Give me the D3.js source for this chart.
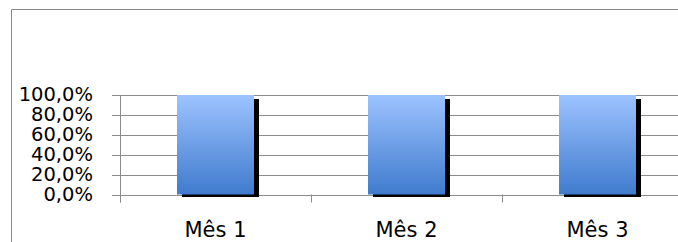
<!DOCTYPE html>
<html>
<head>
<meta charset="utf-8">
<script src="https://cdn.jsdelivr.net/npm/d3@7"></script>
<style>
  body { margin: 0; background: white; }
  svg { display: block; }
  text { font-family: "DejaVu Sans", sans-serif; fill: black; }
</style>
</head>
<body>
<div id="vis"></div>
<script>
// chart data
var categories = ['Mês 1', 'Mês 2', 'Mês 3'];
var values = [1.0, 1.0, 1.0];
var yTicks = [0, 0.2, 0.4, 0.6, 0.8, 1.0];

var svgWidth = 678;
var svgHeight = 242;

var svg = d3.select('#vis').append('svg')
  .attr('width', svgWidth)
  .attr('height', svgHeight);

// outer chart frame (runs past the right/bottom edge of the picture)
svg.append('path')
  .attr('d', 'M11.5,' + svgHeight + 'V9.5H' + svgWidth)
  .attr('fill', 'none')
  .attr('stroke', '#8a8a8a')
  .attr('stroke-width', 1);

// plot area
var plot = {left: 120, right: 693, top: 95, bottom: 194.5};

var xScale = d3.scaleBand()
  .domain(categories)
  .range([plot.left, plot.right])
  .paddingInner(0.597)
  .paddingOuter(0.2985);

var yScale = d3.scaleLinear()
  .domain([0, 1])
  .range([plot.bottom, plot.top]);

var pct = function (v) {
  return d3.format('.1f')(v * 100).replace('.', ',') + '%';
};

// gridlines
svg.selectAll('.grid')
  .data(yTicks)
  .enter().append('line')
  .attr('class', 'grid')
  .attr('x1', plot.left - 8)
  .attr('x2', plot.right)
  .attr('y1', function (d) { return Math.round(yScale(d)) + 0.5; })
  .attr('y2', function (d) { return Math.round(yScale(d)) + 0.5; })
  .attr('stroke', '#8c8c8c');

// y axis line
svg.append('line')
  .attr('x1', plot.left + 0.5)
  .attr('x2', plot.left + 0.5)
  .attr('y1', plot.top)
  .attr('y2', plot.bottom + 8)
  .attr('stroke', '#8c8c8c');

// x axis tick marks at category boundaries
var step = xScale.step();
var bounds = d3.range(categories.length + 1).map(function (i) { return plot.left + i * step; });
svg.selectAll('.xtick')
  .data(bounds)
  .enter().append('line')
  .attr('class', 'xtick')
  .attr('x1', function (d) { return Math.round(d) + 0.5; })
  .attr('x2', function (d) { return Math.round(d) + 0.5; })
  .attr('y1', plot.bottom)
  .attr('y2', plot.bottom + 8)
  .attr('stroke', '#8c8c8c');

// y tick labels
svg.selectAll('.ylabel')
  .data(yTicks)
  .enter().append('text')
  .attr('class', 'ylabel')
  .attr('x', 93)
  .attr('y', function (d) { return yScale(d); })
  .attr('dy', '0.32em')
  .attr('text-anchor', 'end')
  .style('font-size', '19.5px')
  .text(pct);

// bar gradient
var grad = svg.append('defs').append('linearGradient')
  .attr('id', 'barGrad')
  .attr('x1', 0).attr('y1', 0)
  .attr('x2', 0).attr('y2', 1);
grad.append('stop').attr('offset', '0%').attr('stop-color', '#9dc3ff');
grad.append('stop').attr('offset', '100%').attr('stop-color', '#3f7bcd');

// shadows
svg.selectAll('.shadow')
  .data(values)
  .enter().append('rect')
  .attr('class', 'shadow')
  .attr('x', function (d, i) { return xScale(categories[i]) + 5; })
  .attr('y', function (d) { return yScale(d) + 4; })
  .attr('width', xScale.bandwidth())
  .attr('height', function (d) { return plot.bottom - yScale(d) - 1.5; })
  .attr('fill', 'black');

// bars
svg.selectAll('.bar')
  .data(values)
  .enter().append('rect')
  .attr('class', 'bar')
  .attr('x', function (d, i) { return xScale(categories[i]); })
  .attr('y', function (d) { return yScale(d); })
  .attr('width', xScale.bandwidth())
  .attr('height', function (d) { return plot.bottom - yScale(d); })
  .attr('fill', 'url(#barGrad)');

// category labels
svg.selectAll('.xlabel')
  .data(categories)
  .enter().append('text')
  .attr('class', 'xlabel')
  .attr('x', function (d) { return xScale(d) + xScale.bandwidth() / 2; })
  .attr('y', 236.5)
  .attr('text-anchor', 'middle')
  .style('font-size', '21px')
  .text(function (d) { return d; });
</script>
</body>
</html>
